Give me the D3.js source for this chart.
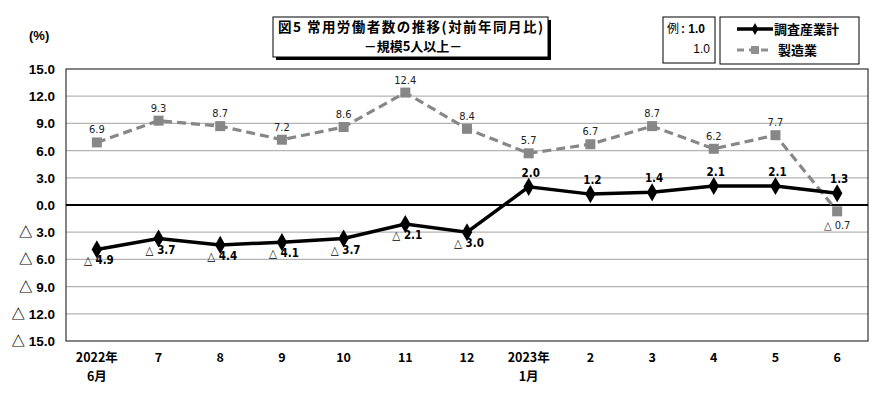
<!DOCTYPE html>
<html>
<head>
<meta charset="utf-8">
<script src="https://cdn.jsdelivr.net/npm/d3@7"></script>
<style>
  body { margin: 0; background: #fff; }
  svg { display: block; }
  text { font-family: "Liberation Sans", Arial, "Noto Sans CJK JP", sans-serif; }
  .jp { font-family: "Noto Sans CJK JP", sans-serif; }
  .lbl { font-family: "Liberation Sans Narrow", "DejaVu Sans Condensed", "Liberation Sans", sans-serif; }
</style>
</head>
<body>
<script>
// data
var months = ["2022年|6月", "7", "8", "9", "10", "11", "12", "2023年|1月", "2", "3", "4", "5", "6"];
var total = [-4.9, -3.7, -4.4, -4.1, -3.7, -2.1, -3.0, 2.0, 1.2, 1.4, 2.1, 2.1, 1.3];
var manuf = [6.9, 9.3, 8.7, 7.2, 8.6, 12.4, 8.4, 5.7, 6.7, 8.7, 6.2, 7.7, -0.7];
var yTicks = [15, 12, 9, 6, 3, 0, -3, -6, -9, -12, -15];
var seriesNames = ["調査産業計", "製造業"];

function fmt(v) {
  return v < 0 ? "△ " + Math.abs(v).toFixed(1) : v.toFixed(1);
}

function main() {
  document.body.innerHTML = '<svg width="890" height="394"></svg>';
  var svg = d3.select("svg");
  var left = 66, right = 868, top = 69, bottom = 341;

  var x = d3.scalePoint().domain(months).range([left, right]).padding(0.5);
  var y = d3.scaleLinear().domain([-15, 15]).range([bottom, top]);

  // gridlines
  svg.append("g").selectAll("line")
    .data(yTicks.filter(function (d) { return d !== 15 && d !== -15 && d !== 0; }))
    .enter().append("line")
    .attr("x1", left).attr("x2", right)
    .attr("y1", function (d) { return y(d); }).attr("y2", function (d) { return y(d); })
    .attr("stroke", "#b4b4b4").attr("stroke-width", 1.3);

  // plot frame
  svg.append("rect")
    .attr("x", left).attr("y", top).attr("width", right - left).attr("height", bottom - top)
    .attr("fill", "none").attr("stroke", "#333").attr("stroke-width", 1.2);

  // zero line
  svg.append("line")
    .attr("x1", left).attr("x2", right).attr("y1", y(0)).attr("y2", y(0))
    .attr("stroke", "#000").attr("stroke-width", 2);

  // y labels
  svg.append("g").selectAll("text")
    .data(yTicks).enter().append("text")
    .attr("x", 55).attr("y", function (d) { return y(d) + 5; })
    .attr("text-anchor", "end")
    .attr("font-size", 13.5).attr("font-weight", "bold")
    .text(fmt);

  svg.append("text").attr("x", 29).attr("y", 40)
    .attr("font-size", 13).attr("font-weight", "bold").text("(%)");

  // x labels
  var xl = svg.append("g").selectAll("text")
    .data(months).enter().append("text")
    .attr("class", "jp")
    .attr("x", function (d) { return x(d); })
    .attr("y", 362)
    .attr("text-anchor", "middle")
    .attr("font-size", 12.5).attr("font-weight", "bold");
  xl.each(function (d) {
    var parts = d.split("|");
    var t = d3.select(this);
    parts.forEach(function (p, i) {
      t.append("tspan").attr("x", x(d)).attr("dy", i === 0 ? 0 : 19).text(p);
    });
  });

  var line = d3.line()
    .x(function (d, i) { return x(months[i]); })
    .y(function (d) { return y(d); });

  // manufacturing series
  svg.append("path").datum(manuf)
    .attr("d", line).attr("fill", "none")
    .attr("stroke", "#878787").attr("stroke-width", 3.2)
    .attr("stroke-dasharray", "9,5");
  svg.append("g").selectAll("rect")
    .data(manuf).enter().append("rect")
    .attr("x", function (d, i) { return x(months[i]) - 5; })
    .attr("y", function (d) { return y(d) - 5; })
    .attr("width", 10).attr("height", 10)
    .attr("fill", "#878787");
  svg.append("g").selectAll("text")
    .data(manuf).enter().append("text")
    .attr("class", "lbl")
    .attr("x", function (d, i) { return x(months[i]); })
    .attr("y", function (d) { return d < 0 ? y(d) + 18 : y(d) - 9; })
    .attr("text-anchor", "middle")
    .attr("font-size", 11).attr("fill", "#222")
    .text(fmt);

  // total series
  svg.append("path").datum(total)
    .attr("d", line).attr("fill", "none")
    .attr("stroke", "#000").attr("stroke-width", 3.5);
  var diamond = d3.symbol().type(d3.symbolDiamond).size(95);
  svg.append("g").selectAll("path")
    .data(total).enter().append("path")
    .attr("d", diamond)
    .attr("transform", function (d, i) { return "translate(" + x(months[i]) + "," + y(d) + ")"; })
    .attr("fill", "#000");
  svg.append("g").selectAll("text")
    .data(total).enter().append("text")
    .attr("class", "lbl")
    .attr("x", function (d, i) { return x(months[i]) + 2; })
    .attr("y", function (d) { return d < 0 ? y(d) + 15 : y(d) - 10; })
    .attr("text-anchor", "middle")
    .attr("font-size", 11.5).attr("font-weight", "bold")
    .text(fmt);

  // title box
  svg.append("rect").attr("x", 276).attr("y", 20).attr("width", 275).attr("height", 40).attr("fill", "#000");
  svg.append("rect").attr("x", 273).attr("y", 17).attr("width", 275).attr("height", 40)
    .attr("fill", "#fff").attr("stroke", "#000").attr("stroke-width", 1);
  svg.append("text").attr("class", "jp").attr("x", 278).attr("y", 32)
    .attr("font-size", 13.5).attr("font-weight", "bold")
    .attr("textLength", 265).attr("lengthAdjust", "spacing")
    .text("図5  常用労働者数の推移(対前年同月比)");
  svg.append("text").attr("class", "jp").attr("x", 413).attr("y", 51)
    .attr("text-anchor", "middle")
    .attr("font-size", 13).attr("font-weight", "bold")
    .text("－規模5人以上－");

  // example box
  svg.append("rect").attr("x", 663).attr("y", 17).attr("width", 52).attr("height", 46)
    .attr("fill", "#fff").attr("stroke", "#000").attr("stroke-width", 1);
  svg.append("text").attr("class", "jp").attr("x", 667).attr("y", 33)
    .attr("font-size", 12).text("例");
  svg.append("text").attr("x", 681).attr("y", 33)
    .attr("font-size", 12).attr("font-weight", "bold").text(": 1.0");
  svg.append("text").attr("x", 710).attr("y", 53).attr("text-anchor", "end")
    .attr("font-size", 12).text("1.0");

  // legend box
  svg.append("rect").attr("x", 720).attr("y", 17).attr("width", 139).attr("height", 47)
    .attr("fill", "#fff").attr("stroke", "#000").attr("stroke-width", 1);
  var lg = svg.append("g");
  lg.append("line").attr("x1", 737).attr("x2", 773).attr("y1", 29).attr("y2", 29)
    .attr("stroke", "#000").attr("stroke-width", 3.5);
  lg.append("path").attr("d", d3.symbol().type(d3.symbolDiamond).size(40))
    .attr("transform", "translate(755,29)").attr("fill", "#000");
  lg.append("text").attr("class", "jp").attr("x", 774).attr("y", 34)
    .attr("font-size", 13).attr("font-weight", "bold").text(seriesNames[0]);
  lg.append("line").attr("x1", 737).attr("x2", 773).attr("y1", 50).attr("y2", 50)
    .attr("stroke", "#8f8f8f").attr("stroke-width", 3.2).attr("stroke-dasharray", "7,5");
  lg.append("rect").attr("x", 751).attr("y", 46).attr("width", 8).attr("height", 8).attr("fill", "#8f8f8f");
  lg.append("text").attr("class", "jp").attr("x", 778).attr("y", 55)
    .attr("font-size", 13).attr("font-weight", "bold").text(seriesNames[1]);
}
main();
</script>
</body>
</html>
